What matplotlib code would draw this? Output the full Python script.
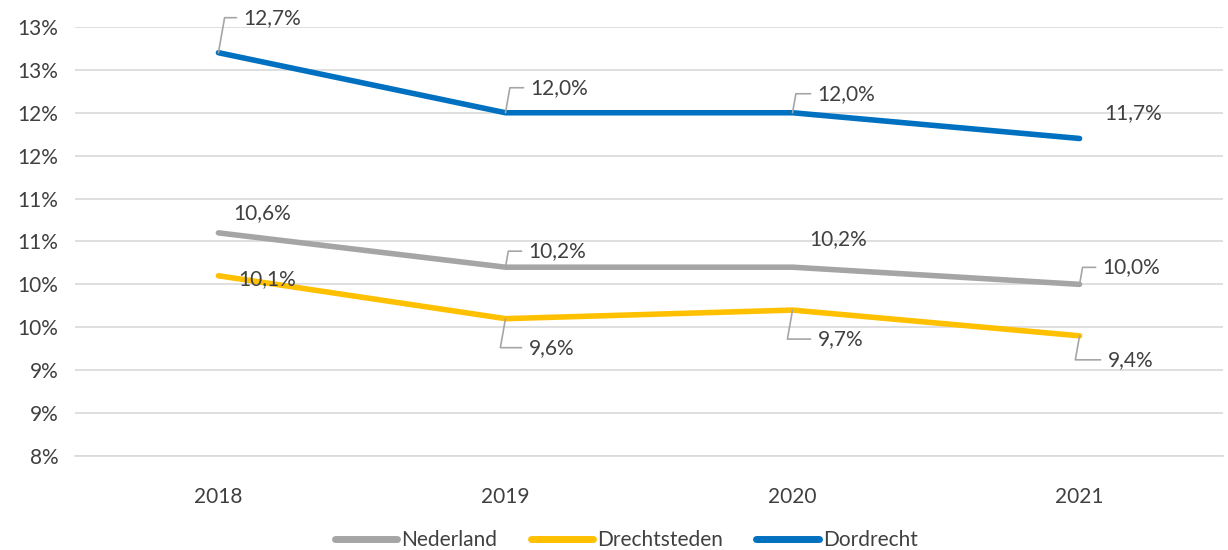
import math
import matplotlib.pyplot as plt
from matplotlib.ticker import FuncFormatter, MultipleLocator

years = ["2018", "2019", "2020", "2021"]
nederland = [10.6, 10.2, 10.2, 10.0]
drechtsteden = [10.1, 9.6, 9.7, 9.4]
dordrecht = [12.7, 12.0, 12.0, 11.7]

# label offsets in pixels (dx, dy) and whether a leader line is drawn
label_pos = {
    "Nederland": [(15, 20, False), (23, 16, True), (17, 28, False), (23, 17, True)],
    "Drechtsteden": [(20, -3, False), (23, -29, True), (25, -29, True), (28, -24, True)],
    "Dordrecht": [(25, 35, True), (25, 25, True), (25, 19, True), (25, 25, False)],
}

series = [
    ("Nederland", nederland, "#A5A5A5"),
    ("Drechtsteden", drechtsteden, "#FFC000"),
    ("Dordrecht", dordrecht, "#0070C0"),
]

plt.rcParams["font.family"] = ["Lato", "DejaVu Sans"]
text_col = "#404040"
grid_col = "#D9D9D9"
fs = 15

fig = plt.figure(figsize=(12.28, 5.5), dpi=100)
ax = fig.add_axes([0.061, 0.171, 0.935, 0.78])

x = list(range(len(years)))
for name, vals, col in series:
    ax.plot(x, vals, color=col, lw=4, solid_capstyle="round", label=name, zorder=3)
    for xi, v, (dx, dy, leader) in zip(x, vals, label_pos[name]):
        txt = f"{v:.1f}%".replace(".", ",")
        if leader:
            ax.annotate(txt, (xi, v), xytext=(dx, dy), textcoords="offset pixels",
                        ha="left", va="center", fontsize=fs, color=text_col, zorder=4,
                        arrowprops=dict(arrowstyle="-", color="#A6A6A6", lw=1.2,
                                        connectionstyle="angle,angleA=0,angleB=80,rad=0",
                                        relpos=(0, 0.5), shrinkA=3, shrinkB=0))
        else:
            ax.annotate(txt, (xi, v), xytext=(dx, dy), textcoords="offset pixels",
                        ha="left", va="center", fontsize=fs, color=text_col, zorder=4)

ax.set_xlim(-0.5, 3.5)
ax.set_ylim(8, 13)
ax.set_xticks(x)
ax.set_xticklabels(years)
ax.yaxis.set_major_locator(MultipleLocator(0.5))
ax.yaxis.set_major_formatter(FuncFormatter(lambda v, p: f"{math.floor(v + 0.5)}%"))
ax.grid(axis="y", color=grid_col, lw=1.2)
ax.set_axisbelow(True)
for s in ["top", "right", "left"]:
    ax.spines[s].set_visible(False)
ax.spines["bottom"].set_color(grid_col)
ax.spines["bottom"].set_linewidth(1.2)
ax.tick_params(axis="both", length=0, labelsize=fs, colors=text_col, pad=12)
ax.tick_params(axis="x", pad=22)

leg = fig.legend(loc="lower center", bbox_to_anchor=(0.51, -0.035), ncol=3, frameon=False,
                 fontsize=fs, handlelength=3.0, columnspacing=1.6, handletextpad=0.2)
for line in leg.get_lines():
    line.set_linewidth(5)
for t in leg.get_texts():
    t.set_color(text_col)

fig.savefig("out.png", dpi=100)
